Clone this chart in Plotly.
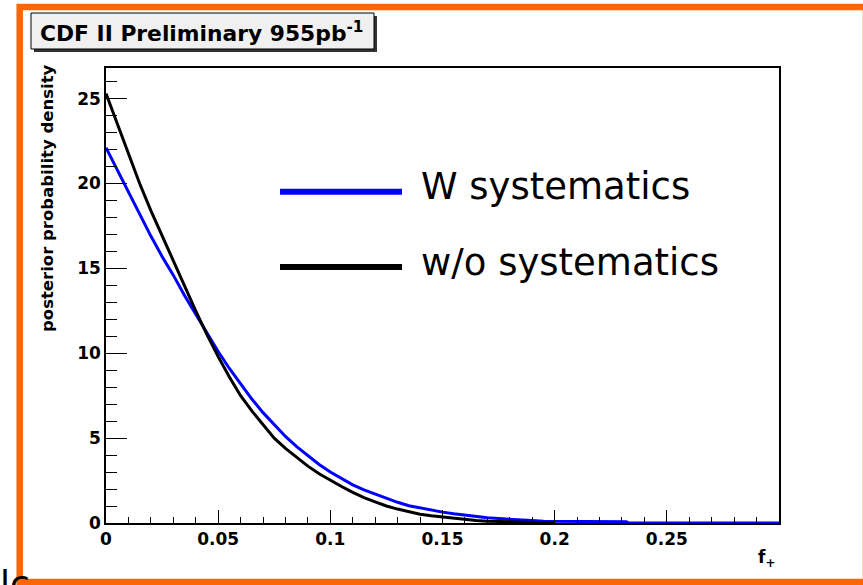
import plotly.graph_objects as go

# Posterior density of f+ read at steps of 0.005
f_plus = [0.000, 0.005, 0.010, 0.015, 0.020, 0.025, 0.030, 0.035, 0.040, 0.045,
          0.050, 0.055, 0.060, 0.065, 0.070, 0.075, 0.080, 0.085, 0.090, 0.095,
          0.100, 0.105, 0.110, 0.115, 0.120, 0.125, 0.130, 0.135, 0.140, 0.145,
          0.150, 0.155, 0.160, 0.165, 0.170, 0.175, 0.180, 0.185, 0.190, 0.195,
          0.200]

with_syst = [22.1, 20.8, 19.5, 18.2, 16.9, 15.7, 14.6, 13.4, 12.3, 11.2,
             10.1, 9.1, 8.2, 7.3, 6.5, 5.8, 5.1, 4.5, 3.95, 3.45,
             3.0, 2.6, 2.25, 1.95, 1.7, 1.45, 1.22, 1.02, 0.88, 0.75,
             0.64, 0.54, 0.45, 0.37, 0.31, 0.26, 0.21, 0.17, 0.14, 0.11,
             0.10]
# tail of the "with systematics" curve beyond 0.2
tail_x = [0.210, 0.220, 0.232, 0.233, 0.250, 0.270, 0.300]
tail_y = [0.09, 0.08, 0.07, 0.0, 0.0, 0.0, 0.0]

without_syst = [25.3, 23.5, 21.7, 20.0, 18.4, 16.9, 15.5, 14.0, 12.5, 11.1,
                9.8, 8.6, 7.5, 6.6, 5.8, 5.0, 4.4, 3.85, 3.35, 2.9,
                2.5, 2.15, 1.8, 1.5, 1.25, 1.0, 0.82, 0.65, 0.52, 0.43,
                0.35, 0.27, 0.20, 0.15, 0.11, 0.08, 0.06, 0.04, 0.03, 0.02,
                0.01]

x_ticks = [0, 0.05, 0.1, 0.15, 0.2, 0.25]
x_labels = ["0", "0.05", "0.1", "0.15", "0.2", "0.25"]
series_names = ["W systematics", "w/o systematics"]
series_colors = ["#0000ff", "#000000"]

W, H = 863, 585
L, R, T, B = 106, 779, 68, 523


def px(x):
    return (x - L) / (R - L)


def py(y):
    return (B - y) / (B - T)


fig = go.Figure()
fig.add_trace(go.Scatter(x=f_plus + tail_x, y=with_syst + tail_y, mode="lines",
                         line=dict(color=series_colors[0], width=3),
                         name=series_names[0], showlegend=False))
fig.add_trace(go.Scatter(x=f_plus, y=without_syst, mode="lines",
                         line=dict(color=series_colors[1], width=3),
                         name=series_names[1], showlegend=False))

tick_font = dict(family="DejaVu Sans", size=17, color="black", weight="bold")

fig.update_xaxes(range=[0, 0.3], tickvals=x_ticks, ticktext=x_labels,
                 ticks="inside", ticklen=13, tickwidth=1, tickcolor="black",
                 minor=dict(tickmode="linear", tick0=0, dtick=0.01, ticks="inside",
                            ticklen=6, tickcolor="black"),
                 showline=True, linecolor="black", linewidth=1.5, mirror=True,
                 showgrid=False, zeroline=False, tickfont=tick_font)
fig.update_yaxes(range=[0, 26.8], tickvals=[0, 5, 10, 15, 20, 25],
                 ticks="inside", ticklen=21, tickwidth=1, tickcolor="black",
                 minor=dict(tickmode="linear", tick0=0, dtick=1, ticks="inside",
                            ticklen=11, tickcolor="black"),
                 showline=True, linecolor="black", linewidth=1.5, mirror=True,
                 showgrid=False, zeroline=False, tickfont=tick_font)

shapes = []
# slide frame
shapes.append(dict(type="rect", xref="paper", yref="paper",
                   x0=px(19.7), x1=px(866), y0=py(7), y1=py(582),
                   line=dict(color="#ff6600", width=6.5), fillcolor="rgba(0,0,0,0)",
                   layer="below"))
# title box with drop shadow
shapes.append(dict(type="rect", xref="paper", yref="paper",
                   x0=px(34), x1=px(377), y0=py(16), y1=py(52),
                   line=dict(width=0), fillcolor="#333333"))
shapes.append(dict(type="rect", xref="paper", yref="paper",
                   x0=px(31), x1=px(374), y0=py(13), y1=py(49),
                   line=dict(color="black", width=1), fillcolor="#f0f0f0"))
# legend key lines
for yy, col in zip([191.7, 267], series_colors):
    shapes.append(dict(type="line", xref="paper", yref="paper",
                       x0=px(280), x1=px(402), y0=py(yy), y1=py(yy),
                       line=dict(color=col, width=6)))

annotations = [
    dict(text="CDF II Preliminary 955pb<sup>-1</sup>", xref="paper", yref="paper",
         x=px(38), y=py(32), xanchor="left", yanchor="middle", showarrow=False,
         font=dict(family="DejaVu Sans", size=21.8, color="black", weight="bold")),
    dict(text="posterior probability density", xref="paper", yref="paper",
         x=px(47), y=py(62), xanchor="center", yanchor="top", textangle=-90,
         showarrow=False,
         font=dict(family="DejaVu Sans", size=16.5, color="black", weight="bold")),
    dict(text="f<sub>+</sub>", xref="paper", yref="paper",
         x=px(777), y=py(558), xanchor="right", yanchor="middle", showarrow=False,
         font=dict(family="DejaVu Sans", size=17, color="black", weight="bold")),
    dict(text="lc", xref="paper", yref="paper",
         x=px(-2), y=py(561), xanchor="left", yanchor="top", showarrow=False,
         font=dict(family="DejaVu Sans", size=36, color="black")),
]
for name, yy in zip(series_names, [186, 262]):
    annotations.append(dict(text=name, xref="paper", yref="paper",
                            x=px(419), y=py(yy), xanchor="left", yanchor="middle",
                            showarrow=False,
                            font=dict(family="DejaVu Sans", size=37, color="black")))

fig.update_layout(width=W, height=H, margin=dict(l=L, r=W - R, t=T, b=H - B),
                  paper_bgcolor="white", plot_bgcolor="white",
                  shapes=shapes, annotations=annotations, showlegend=False)

fig.write_html("out.html")
